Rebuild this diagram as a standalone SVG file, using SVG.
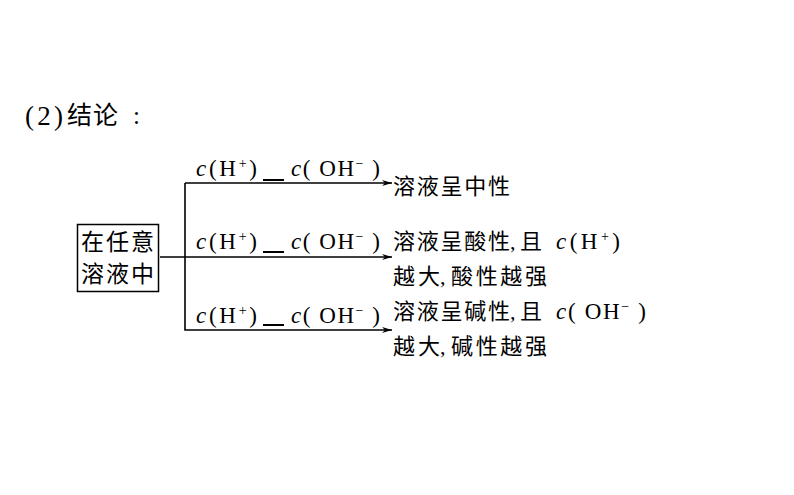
<svg xmlns="http://www.w3.org/2000/svg" width="794" height="495" viewBox="0 0 794 495">
<defs>
<marker id="arr" viewBox="0 0 10 6" refX="10" refY="3" markerWidth="10" markerHeight="6" markerUnits="userSpaceOnUse" orient="auto">
<path d="M0,0 L10,3 L0,6 L3,3 Z" fill="#000"/>
</marker>
<style>
.cn{font-family:"Liberation Serif","Noto Sans CJK SC",serif;font-size:22px;fill:#000}
.lat{font-family:"Liberation Serif",serif;font-size:23px;fill:#000}
.it{font-style:italic}
.sup{font-size:14px}
.ln{stroke:#000;stroke-width:1.6;fill:none}
.blank{stroke:#000;stroke-width:2}
</style>
</defs>
<rect width="794" height="495" fill="#fff"/>
<g id="title">
<text x="25" y="125" class="lat" style="font-size:27px" textLength="38">(2)</text>
<text x="67" y="124" class="cn" style="font-size:25px" letter-spacing="1">结论</text>
<text x="133" y="124" class="cn" style="font-size:25px">:</text>
</g>
<g id="source">
<rect x="77.5" y="224.5" width="81" height="67" fill="#fff" stroke="#000" stroke-width="1.5"/>
<text x="81" y="250" class="cn" style="font-size:23px" textLength="73">在任意</text>
<text x="81" y="282" class="cn" style="font-size:23px" textLength="73">溶液中</text>
</g>
<g id="connectors">
<path class="ln" d="M160,257 H392" marker-end="url(#arr)"/>
<path class="ln" d="M185,183 H392" marker-end="url(#arr)"/>
<path class="ln" d="M185,183 V330 H392" marker-end="url(#arr)"/>
<line class="blank" x1="263" y1="180" x2="284" y2="180"/>
<line class="blank" x1="263" y1="252" x2="284" y2="252"/>
<line class="blank" x1="263" y1="325" x2="284" y2="325"/>
</g>
<g id="label1">
<text x="196" y="176" class="lat" textLength="61"><tspan class="it">c</tspan>(H<tspan dy="-8" class="sup">+</tspan><tspan dy="8">)</tspan></text>
<text x="291" y="176" class="lat" textLength="89"><tspan class="it">c</tspan>( OH<tspan dy="-8" class="sup">−</tspan><tspan dy="8"> )</tspan></text>
</g>
<g id="label2">
<text x="196" y="249" class="lat" textLength="61"><tspan class="it">c</tspan>(H<tspan dy="-8" class="sup">+</tspan><tspan dy="8">)</tspan></text>
<text x="291" y="249" class="lat" textLength="89"><tspan class="it">c</tspan>( OH<tspan dy="-8" class="sup">−</tspan><tspan dy="8"> )</tspan></text>
</g>
<g id="label3">
<text x="196" y="323" class="lat" textLength="61"><tspan class="it">c</tspan>(H<tspan dy="-8" class="sup">+</tspan><tspan dy="8">)</tspan></text>
<text x="291" y="323" class="lat" textLength="89"><tspan class="it">c</tspan>( OH<tspan dy="-8" class="sup">−</tspan><tspan dy="8"> )</tspan></text>
</g>
<g id="neutral">
<text x="393" y="194" class="cn" textLength="117">溶液呈中性</text>
</g>
<g id="acidic">
<text x="393" y="249" class="cn" textLength="117">溶液呈酸性</text>
<text x="510" y="249" class="cn">,</text>
<text x="520" y="249" class="cn">且</text>
<text x="556" y="249" class="lat" textLength="64"><tspan class="it">c</tspan>(H<tspan dy="-8" class="sup">+</tspan><tspan dy="8">)</tspan></text>
<text x="393" y="284" class="cn" textLength="47">越大</text>
<text x="440" y="284" class="cn">,</text>
<text x="451" y="284" class="cn" textLength="96">酸性越强</text>
</g>
<g id="basic">
<text x="393" y="319" class="cn" textLength="117">溶液呈碱性</text>
<text x="510" y="319" class="cn">,</text>
<text x="520" y="319" class="cn">且</text>
<text x="556" y="319" class="lat" textLength="90"><tspan class="it">c</tspan>( OH<tspan dy="-8" class="sup">−</tspan><tspan dy="8"> )</tspan></text>
<text x="393" y="354" class="cn" textLength="47">越大</text>
<text x="440" y="354" class="cn">,</text>
<text x="451" y="354" class="cn" textLength="96">碱性越强</text>
</g>
</svg>
